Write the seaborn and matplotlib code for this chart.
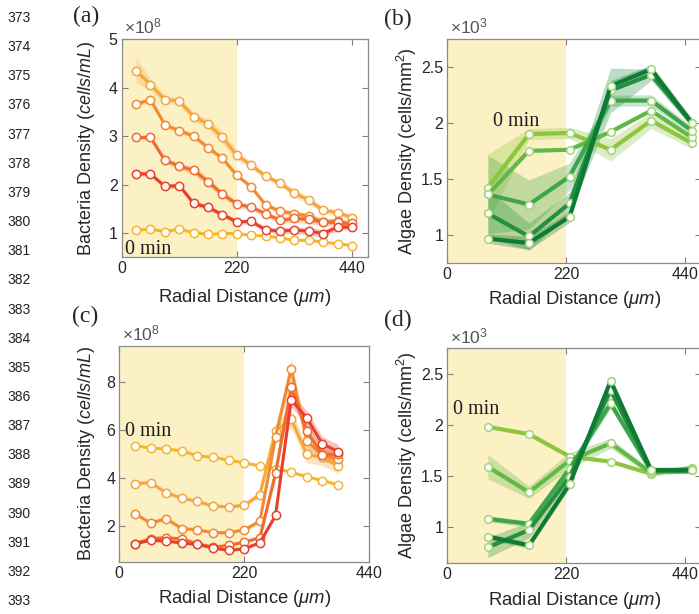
import numpy as np
import matplotlib
matplotlib.use("Agg")
import matplotlib.pyplot as plt
import seaborn as sns

# ---- data (bacteria in 1e8 cells/mL, algae in 1e3 cells/mm^2) ----
x_bac_a = [27.5, 55, 82.5, 110, 137.5, 165, 192.5, 220, 247.5, 275, 302.5, 330, 357.5, 385, 412.5, 440]
a_0min = [1.06, 1.08, 1.03, 1.08, 1.01, 0.97, 0.99, 0.99, 0.95, 0.94, 0.90, 0.85, 0.85, 0.81, 0.78, 0.74]
a_s1 = [4.35, 4.06, 3.75, 3.72, 3.40, 3.25, 2.97, 2.60, 2.40, 2.17, 2.03, 1.82, 1.68, 1.47, 1.42, 1.32]
a_s2 = [3.66, 3.75, 3.23, 3.11, 3.00, 2.76, 2.54, 2.19, 1.95, 1.58, 1.45, 1.40, 1.35, 1.23, 1.25, 1.15]
a_s3 = [2.97, 2.97, 2.50, 2.38, 2.29, 2.06, 1.80, 1.60, 1.53, 1.40, 1.26, 1.30, 1.28, 1.22, 1.22, 1.20]
a_s4 = [2.22, 2.22, 1.96, 1.98, 1.61, 1.53, 1.38, 1.23, 1.24, 1.07, 1.04, 1.06, 1.04, 0.99, 1.12, 1.12]
a_err1 = [0.25, 0.12, 0.08, 0.08, 0.08, 0.10, 0.12, 0.10, 0.08, 0.06, 0.06, 0.08, 0.08, 0.06, 0.06, 0.06]
a_err2 = [0.04, 0.05, 0.05, 0.05, 0.05, 0.05, 0.05, 0.05, 0.05, 0.05, 0.06, 0.06, 0.06, 0.06, 0.06, 0.05]
a_err3 = [0.04, 0.05, 0.06, 0.06, 0.08, 0.08, 0.07, 0.06, 0.06, 0.06, 0.07, 0.08, 0.08, 0.08, 0.07, 0.06]
a_err4 = [0.04, 0.04, 0.05, 0.05, 0.05, 0.05, 0.05, 0.05, 0.05, 0.05, 0.06, 0.07, 0.08, 0.08, 0.06, 0.05]

x_bac_c = [27.5, 55, 82.5, 110, 137.5, 165, 192.5, 220, 247.5, 275, 302.5, 330, 357.5, 385]
c_0min = [5.34, 5.23, 5.20, 5.12, 4.91, 4.85, 4.73, 4.62, 4.49, 4.38, 4.23, 4.04, 3.88, 3.70]
c_s1 = [3.75, 3.80, 3.37, 3.15, 3.01, 2.82, 2.79, 2.85, 3.30, 5.96, 6.45, 4.97, 4.85, 4.48]
c_s2 = [2.50, 2.11, 2.29, 1.88, 1.83, 1.71, 1.71, 1.83, 2.19, 5.71, 8.55, 5.52, 4.95, 4.76]
c_s3 = [1.25, 1.46, 1.50, 1.45, 1.25, 1.11, 1.18, 1.32, 1.50, 4.19, 7.76, 5.96, 4.95, 4.97]
c_s4 = [1.25, 1.39, 1.36, 1.28, 1.22, 1.07, 0.97, 1.04, 1.29, 2.43, 7.25, 6.49, 5.41, 5.09]
c_err1 = [0.05, 0.06, 0.06, 0.06, 0.06, 0.06, 0.06, 0.08, 0.12, 0.30, 0.40, 0.35, 0.35, 0.30]
c_err2 = [0.05, 0.06, 0.06, 0.05, 0.05, 0.05, 0.06, 0.06, 0.10, 0.30, 0.40, 0.30, 0.25, 0.25]
c_err3 = [0.05, 0.08, 0.08, 0.06, 0.05, 0.05, 0.05, 0.06, 0.08, 0.25, 0.35, 0.30, 0.30, 0.30]
c_err4 = [0.04, 0.05, 0.05, 0.05, 0.04, 0.04, 0.04, 0.05, 0.06, 0.10, 0.30, 0.30, 0.30, 0.30]

x_alg = [75, 151, 226, 302, 377, 452]
b_0min = [1.42, 1.90, 1.91, 1.76, 2.02, 1.82]
b_s1 = [1.36, 1.75, 1.76, 1.92, 2.11, 1.87]
b_s2 = [1.36, 1.27, 1.52, 2.20, 2.20, 1.93]
b_s3 = [1.19, 0.985, 1.28, 2.29, 2.43, 2.00]
b_s4 = [0.965, 0.926, 1.16, 2.33, 2.48, 2.00]
b_err1 = [0.30, 0.05, 0.05, 0.10, 0.07, 0.05]
b_err2 = [0.35, 0.22, 0.12, 0.05, 0.05, 0.04]
b_err3 = [0.22, 0.12, 0.10, 0.20, 0.05, 0.04]
b_err4 = [0.04, 0.06, 0.05, 0.05, 0.04, 0.04]

d_0min = [1.98, 1.91, 1.69, 1.64, 1.52, 1.58]
d_s1 = [1.59, 1.34, 1.65, 1.82, 1.53, 1.57]
d_s2 = [1.08, 1.03, 1.57, 2.21, 1.55, 1.56]
d_s3 = [0.80, 0.97, 1.49, 2.34, 1.555, 1.555]
d_s4 = [0.906, 0.82, 1.42, 2.43, 1.555, 1.555]
d_err1 = [0.12, 0.06, 0.08, 0.05, 0.03, 0.03]
d_err2 = [0.03, 0.03, 0.04, 0.05, 0.03, 0.03]
d_err3 = [0.10, 0.08, 0.05, 0.05, 0.03, 0.03]
d_err4 = [0.03, 0.03, 0.04, 0.05, 0.03, 0.03]

orange_cols = ["#f6b52e", "#f7a53c", "#f28b2d", "#ee6d2e", "#e8412b"]
green_cols = ["#8cc63f", "#62b846", "#3fa54a", "#22903f", "#0e7a36"]
line_numbers = list(range(373, 394))

sns.set_theme(style="ticks")
plt.rcParams["font.family"] = ["Liberation Sans", "DejaVu Sans"]
plt.rcParams["mathtext.fontset"] = "custom"
plt.rcParams["mathtext.rm"] = "Liberation Sans"
plt.rcParams["mathtext.it"] = "Liberation Sans:italic"

fig = plt.figure(figsize=(6.99, 6.14), dpi=100)
W, H = 699, 614


def px_axes(l, r, t, b):
    return fig.add_axes([l / W, 1 - b / H, (r - l) / W, (b - t) / H])


ax_a = px_axes(121.7, 367.7, 39, 257.3)
ax_b = px_axes(447.3, 701.5, 39, 262.7)
ax_c = px_axes(119.3, 369.3, 345.7, 561.7)
ax_d = px_axes(447.3, 701.5, 348.3, 562.7)


def draw(ax, x, series, errs, cols, lw, ms, mec=None):
    x = np.array(x)
    for y, e, c in zip(series, errs, cols):
        y = np.array(y)
        if e is not None:
            e = np.array(e)
            ax.fill_between(x, y - e, y + e, color=c, alpha=0.3, lw=0, zorder=2)
        sns.lineplot(x=x, y=y, ax=ax, color=c, lw=lw, marker="o", markersize=ms,
                     markerfacecolor="white", markeredgecolor=mec or c,
                     markeredgewidth=1.1, clip_on=False, zorder=3)


draw(ax_a, x_bac_a, [a_0min, a_s1, a_s2, a_s3, a_s4],
     [None, a_err1, a_err2, a_err3, a_err4], orange_cols, 2.2, 6)
draw(ax_c, x_bac_c, [c_0min, c_s1, c_s2, c_s3, c_s4],
     [None, c_err1, c_err2, c_err3, c_err4], orange_cols, 2.2, 6)
draw(ax_b, x_alg, [b_0min, b_s1, b_s2, b_s3, b_s4],
     [b_err1, None, b_err2, b_err3, b_err4], green_cols, 3.0, 5.5, mec="#a3d37a")
draw(ax_d, x_alg, [d_0min, d_s1, d_s2, d_s3, d_s4],
     [None, d_err1, d_err2, d_err3, d_err4], green_cols, 3.0, 5.5, mec="#a3d37a")

settings = [
    (ax_a, (0, 470), (0.5, 5), [1, 2, 3, 4, 5], ["1", "2", "3", "4", "5"], 8,
     "Bacteria Density ($\\mathit{cells/mL}$)", (125, 250), 86.7, 287),
    (ax_b, (0, 470), (0.75, 2.75), [1, 1.5, 2, 2.5], ["1", "1.5", "2", "2.5"], 3,
     "Algae Density (cells/mm$^2$)", (493, 121), 406.7, 289),
    (ax_c, (0, 440), (0.5, 9.5), [2, 4, 6, 8], ["2", "4", "6", "8"], 8,
     "Bacteria Density ($\\mathit{cells/mL}$)", (125, 431), 86.7, 588),
    (ax_d, (0, 470), (0.65, 2.75), [1, 1.5, 2, 2.5], ["1", "1.5", "2", "2.5"], 3,
     "Algae Density (cells/mm$^2$)", (453, 410), 406.7, 590),
]

for ax, xl, yl, yt, ytl, expo, ylab, minpos, lx, xlab_top in settings:
    ax.axvspan(0, 220, color="#fcf1c4", lw=0, zorder=0)
    ax.set_xlim(xl)
    ax.set_ylim(yl)
    ax.set_xticks([0, 220, 440])
    ax.set_xticklabels(["0", "220", "440"])
    ax.set_yticks(yt)
    ax.set_yticklabels(ytl)
    ax.tick_params(direction="in", length=4, width=0.8, color="#7f7f7f",
                   labelsize=11.5, labelcolor="#262626", pad=3,
                   top=True, right=True)
    for s in ax.spines.values():
        s.set_color("#8a8a8a")
        s.set_linewidth(0.9)
    bb = ax.get_position()
    ax.set_xlabel("Radial Distance ($\\mu m$)", fontsize=13.3, color="#262626")
    ax.xaxis.set_label_coords(0.5, ((1 - xlab_top / H) - bb.y0) / bb.height)
    ax.set_ylabel(ylab, fontsize=13, color="#262626", va="center")
    ax.yaxis.set_label_coords((lx / W - bb.x0) / bb.width, 0.5)
    ax.text(0.01, 1.01, "$\\times10^{%d}$" % expo, transform=ax.transAxes,
            fontsize=12.5, color="#555555", ha="left", va="bottom")
    fig.text((minpos[0]) / W, 1 - minpos[1] / H, "0 min", fontsize=14.5,
             family=["Liberation Serif", "DejaVu Serif"], color="#1a1a1a",
             ha="left", va="center")

fig.text(86 / W, 1 - 16 / H, "(a)", fontsize=17, family=["Liberation Serif"], ha="center", va="center")
fig.text(398 / W, 1 - 19 / H, "(b)", fontsize=17, family=["Liberation Serif"], ha="center", va="center")
fig.text(85 / W, 1 - 316 / H, "(c)", fontsize=17, family=["Liberation Serif"], ha="center", va="center")
fig.text(398 / W, 1 - 320 / H, "(d)", fontsize=17, family=["Liberation Serif"], ha="center", va="center")

for i, n in enumerate(line_numbers):
    fig.text(19 / W, 1 - (18 + 29.15 * i) / H, str(n), fontsize=10,
             color="#222222", ha="center", va="center")

fig.savefig("out.png", dpi=100)
